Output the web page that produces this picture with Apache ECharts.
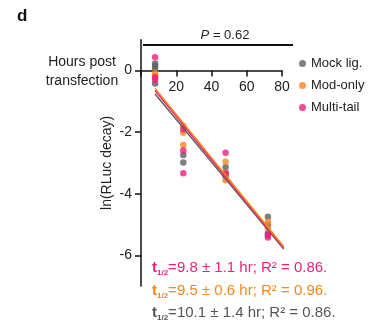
<!DOCTYPE html>
<html>
<head>
<meta charset="utf-8">
<script src="https://cdn.jsdelivr.net/npm/echarts@6/dist/echarts.min.js"></script>
<style>
html,body{margin:0;padding:0;background:#fff;}
#chart{width:378px;height:325px;}
</style>
</head>
<body>
<div id="chart"></div>
<script>
// ---- data ----
const timepoints = [8, 24, 48, 72];
const mockValues = [[0.23, 0.15, 0.07, -0.42], [-2.74, -2.99], [-3.14, -3.32, -3.43], [-4.75, -5.02, -5.29]];
const modValues = [[-0.09, -0.18], [-1.80, -2.02, -2.42], [-2.96, -3.32, -3.56], [-4.91, -5.12]];
const multiValues = [[0.43, -0.22, -0.30], [-1.91, -2.60, -3.34], [-2.67, -3.35], [-5.34, -5.42]];
const fitX = [8, 81];
const mockFit = [-0.76, -5.80];
const modFit = [-0.58, -5.72];
const multiFit = [-0.65, -5.76];
const seriesNames = ['Mock lig.', 'Mod-only', 'Multi-tail'];
const xTicks = [0, 20, 40, 60, 80];
const yTicks = [0, -2, -4, -6];
const annotations = [
  ['9.8 ± 1.1', '0.86'],
  ['9.5 ± 0.6', '0.96'],
  ['10.1 ± 1.4', '0.86']
];

const GREY = '#5f5f5f', ORANGE = '#f7861b', PINK = '#ec1f7a';

function pts(vals) {
  const out = [];
  vals.forEach((arr, i) => arr.forEach(v => out.push([timepoints[i], v])));
  return out;
}
function fit(ys) { return fitX.map((x, i) => [x, ys[i]]); }

const chart = echarts.init(document.getElementById('chart'), null, {renderer: 'canvas'});
const FONT = 'Liberation Sans, Arial, sans-serif';

const Y_MIN = -7, Y_MAX = 1;
const GRID = {left: 141, right: 96, top: 39.7, bottom: 38.9};
const gridH = 325 - GRID.top - GRID.bottom;
// place the x axis where y = 0 (top-positioned axis pushed down into the grid)
const xAxisOffset = -gridH * (Y_MAX - 0) / (Y_MAX - Y_MIN);

const scatterCommon = {type: 'scatter', symbolSize: 6.5, z: 3};
const lineCommon = {type: 'line', showSymbol: false, symbol: 'none', z: 4, lineStyle: {width: 1.5}, silent: true};

const textColors = [PINK, ORANGE, '#555'];
const annoY = [268, 291, 313];

chart.setOption({
  animation: false,
  textStyle: {fontFamily: FONT},
  grid: Object.assign({containLabel: false, outerBoundsMode: 'none'}, GRID),
  legend: {
    data: seriesNames,
    orient: 'vertical',
    left: 294, top: 52,
    icon: 'circle', itemWidth: 7, itemHeight: 7, itemGap: 9,
    textStyle: {fontSize: 13, color: '#222', fontFamily: FONT}
  },
  xAxis: {
    type: 'value', min: 0, max: 80, interval: 20,
    position: 'top', offset: xAxisOffset,
    axisLine: {onZero: false, lineStyle: {color: '#111', width: 1.5}},
    axisTick: {show: true, inside: true, length: 6, lineStyle: {color: '#111', width: 1.5}},
    axisLabel: {inside: true, fontSize: 14, color: '#222', margin: 10, formatter: v => (v === 0 ? '' : String(v))},
    splitLine: {show: false}
  },
  yAxis: {
    type: 'value', min: Y_MIN, max: Y_MAX,
    name: 'ln(RLuc decay)', nameLocation: 'middle', nameGap: 27, nameRotate: 90,
    nameTextStyle: {fontSize: 14, color: '#222'},
    axisLine: {onZero: false, lineStyle: {color: '#111', width: 1.5}},
    axisTick: {show: true, length: 6, customValues: yTicks, lineStyle: {color: '#111', width: 1.5}},
    axisLabel: {fontSize: 14, color: '#222', margin: 9, customValues: yTicks},
    splitLine: {show: false}
  },
  series: [
    Object.assign({}, scatterCommon, {name: seriesNames[0], itemStyle: {color: GREY}, data: pts(mockValues)}),
    Object.assign({}, scatterCommon, {name: seriesNames[1], itemStyle: {color: ORANGE}, data: pts(modValues)}),
    Object.assign({}, scatterCommon, {name: seriesNames[2], itemStyle: {color: PINK}, data: pts(multiValues)}),
    Object.assign({}, lineCommon, {name: 'fitMock', lineStyle: {width: 1.5, color: GREY}, itemStyle: {color: GREY}, data: fit(mockFit)}),
    Object.assign({}, lineCommon, {name: 'fitMulti', lineStyle: {width: 1.5, color: PINK}, itemStyle: {color: PINK}, data: fit(multiFit)}),
    Object.assign({}, lineCommon, {name: 'fitMod', lineStyle: {width: 1.5, color: ORANGE}, itemStyle: {color: ORANGE}, data: fit(modFit)})
  ],
  graphic: [
    {type: 'text', left: 17, top: 8, style: {text: 'd', fontSize: 17, fontWeight: 'bold', fill: '#111', fontFamily: FONT}},
    {type: 'line', shape: {x1: 143, y1: 45, x2: 293, y2: 45}, style: {stroke: '#111', lineWidth: 2}},
    {type: 'text', x: 225, y: 35, style: {
      text: '{i|P} = 0.62', align: 'center', verticalAlign: 'middle', fontSize: 13, fill: '#222', fontFamily: FONT,
      rich: {i: {fontStyle: 'italic', fontSize: 13, fill: '#222', fontFamily: FONT}}
    }},
    {type: 'text', x: 82, y: 72, style: {
      text: 'Hours post\ntransfection', align: 'center', verticalAlign: 'middle', fontSize: 14, lineHeight: 19, fill: '#222', fontFamily: FONT
    }}
  ].concat(annotations.map((a, i) => ({
    type: 'text', x: 152, y: annoY[i], style: {
      text: '{t|t}{s|1/2}{m|=' + a[0] + ' hr; R² = ' + a[1] + '.}',
      align: 'left', verticalAlign: 'middle', fill: textColors[i], fontFamily: FONT,
      rich: {
        t: {fontSize: 15, fill: textColors[i], fontFamily: FONT, fontWeight: 'bold', lineHeight: 18},
        s: {fontSize: 8, fill: textColors[i], fontFamily: FONT, fontWeight: 'bold', verticalAlign: 'bottom', lineHeight: 18},
        m: {fontSize: 15, fill: textColors[i], fontFamily: FONT, lineHeight: 18}
      }
    }
  })))
});
</script>
</body>
</html>
